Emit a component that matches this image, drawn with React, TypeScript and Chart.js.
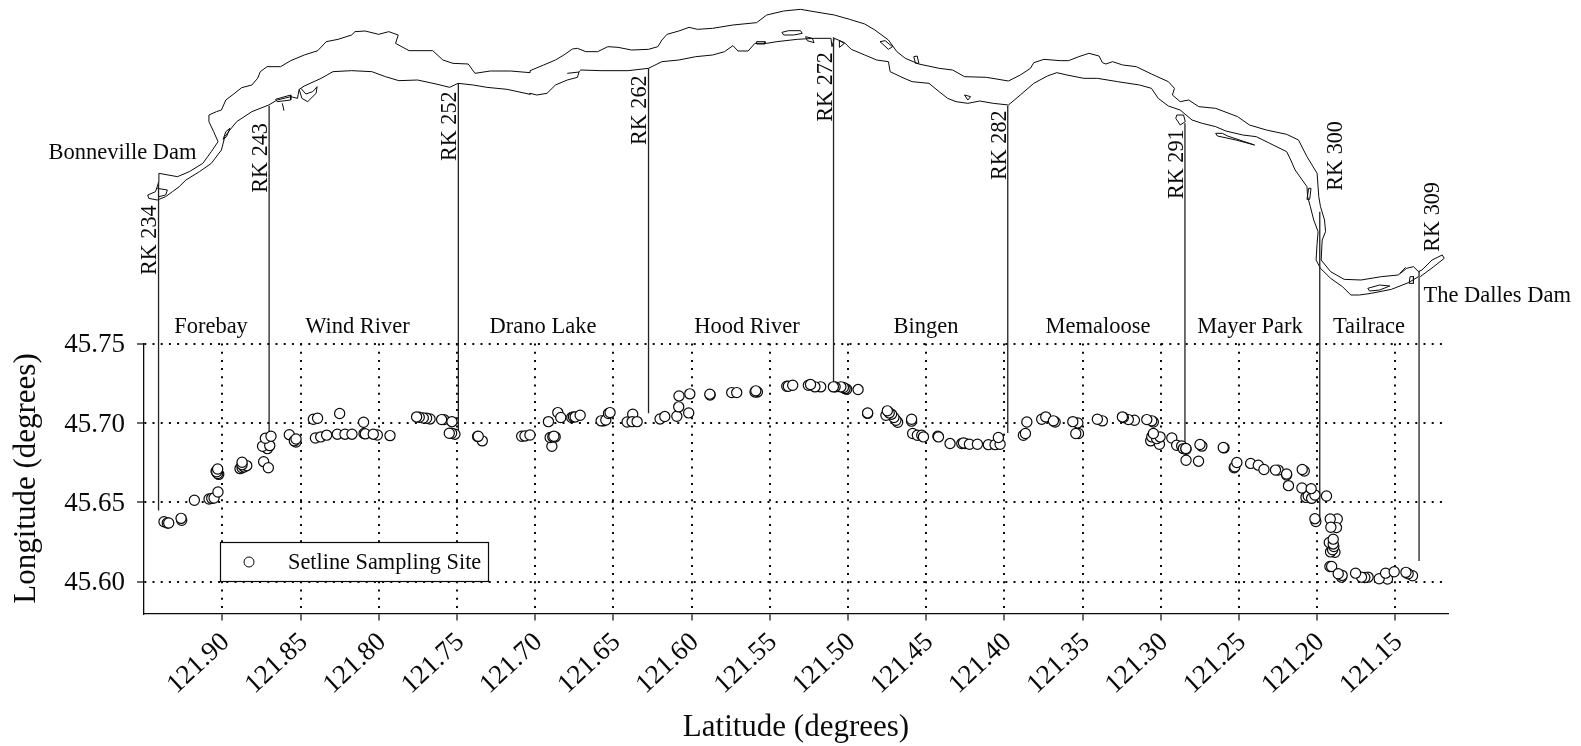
import React, { useEffect, useRef } from "react";
import { Chart, registerables } from "chart.js";

Chart.register(...registerables);

const FONT = '"Liberation Serif", "Times New Roman", serif';
const INK = "#0a0a0a";

const xTicks = [121.9, 121.85, 121.8, 121.75, 121.7, 121.65, 121.6, 121.55, 121.5, 121.45, 121.4, 121.35, 121.3, 121.25, 121.2, 121.15];
const yTicks = [45.6, 45.65, 45.7, 45.75];

// Setline sampling sites [latitude, longitude]
const sites: number[][] = [
  [121.9373, 45.6378], [121.9352, 45.637], [121.9343, 45.637], [121.926, 45.6387], [121.9264, 45.6399],
  [121.9179, 45.6513], [121.9085, 45.6521], [121.9068, 45.6525], [121.9053, 45.6527], [121.9028, 45.6565],
  [121.9023, 45.6676], [121.903, 45.6681], [121.904, 45.6695], [121.9036, 45.6692], [121.903, 45.671],
  [121.8887, 45.6712], [121.8874, 45.6718], [121.8861, 45.6723], [121.8844, 45.6731], [121.8874, 45.6737], [121.8874, 45.6752],
  [121.8736, 45.6756], [121.8706, 45.6718], [121.8712, 45.6838], [121.8743, 45.6853], [121.8697, 45.6857], [121.8725, 45.6903], [121.8689, 45.6916],
  [121.8572, 45.6926], [121.8529, 45.688], [121.854, 45.6887], [121.8529, 45.6899],
  [121.8405, 45.6905], [121.8371, 45.6912], [121.8333, 45.6923], [121.8265, 45.6929], [121.8216, 45.6929], [121.8171, 45.6929],
  [121.8094, 45.6933], [121.8086, 45.6931], [121.8009, 45.6924], [121.8035, 45.6929], [121.7928, 45.692],
  [121.8418, 45.7023], [121.8391, 45.7029], [121.825, 45.7059], [121.8097, 45.7004],
  [121.7672, 45.7025], [121.7694, 45.7029], [121.7715, 45.7031], [121.7741, 45.7036], [121.7758, 45.7038],
  [121.7583, 45.7021], [121.7598, 45.7021], [121.7532, 45.7008],
  [121.7513, 45.6929], [121.7534, 45.6935], [121.7549, 45.6935],
  [121.7338, 45.6887], [121.7368, 45.6914], [121.7364, 45.6916],
  [121.7086, 45.6916], [121.7065, 45.6918], [121.7033, 45.6924],
  [121.6915, 45.7008], [121.6893, 45.6853], [121.6904, 45.6908], [121.6887, 45.6912], [121.6872, 45.6912], [121.688, 45.6916],
  [121.6855, 45.7065], [121.6836, 45.7034], [121.6766, 45.7034], [121.6755, 45.7038], [121.6744, 45.7038], [121.6712, 45.7048],
  [121.6563, 45.7013], [121.6578, 45.7013], [121.6548, 45.7018], [121.6531, 45.7059], [121.6521, 45.7065],
  [121.6376, 45.7055], [121.6412, 45.7006], [121.638, 45.7008], [121.6348, 45.7008],
  [121.6201, 45.7025], [121.6171, 45.704], [121.6094, 45.7042], [121.6082, 45.7101], [121.608, 45.717], [121.6011, 45.7183], [121.6018, 45.7063],
  [121.5881, 45.7176], [121.5883, 45.7181], [121.5743, 45.7191], [121.5711, 45.7191],
  [121.5579, 45.7195], [121.5594, 45.7195], [121.5589, 45.7202],
  [121.5391, 45.7231], [121.5381, 45.7231], [121.5353, 45.7237],
  [121.5174, 45.7227], [121.5211, 45.7227], [121.5253, 45.7237], [121.5239, 45.7242],
  [121.5008, 45.7212], [121.5018, 45.7216], [121.5029, 45.7223], [121.5045, 45.7227], [121.5082, 45.7227], [121.5093, 45.7227],
  [121.4935, 45.721], [121.4874, 45.706], [121.4874, 45.7063],
  [121.4682, 45.7004], [121.4693, 45.7017], [121.4706, 45.7034], [121.4721, 45.7055], [121.4757, 45.7048], [121.4736, 45.7063], [121.4748, 45.7076],
  [121.4593, 45.7011], [121.4593, 45.7023], [121.4586, 45.6933], [121.4556, 45.6922], [121.4528, 45.6922], [121.4517, 45.6912],
  [121.4425, 45.6916], [121.4421, 45.6912], [121.4347, 45.687],
  [121.4272, 45.687], [121.4251, 45.687], [121.4261, 45.6874], [121.4223, 45.6866], [121.4172, 45.6866],
  [121.4102, 45.6863], [121.4059, 45.6863], [121.4027, 45.6866], [121.4038, 45.6908],
  [121.3878, 45.6922], [121.3865, 45.6933], [121.3856, 45.7006],
  [121.3761, 45.7023], [121.3735, 45.7038], [121.3675, 45.7006], [121.3686, 45.7013],
  [121.353, 45.7], [121.3562, 45.7008], [121.3526, 45.6933], [121.3543, 45.6933],
  [121.3373, 45.7013], [121.3405, 45.7023],
  [121.3168, 45.7017], [121.3207, 45.7021], [121.3239, 45.7034], [121.3245, 45.7038],
  [121.3047, 45.7006], [121.3057, 45.7013], [121.3089, 45.7021],
  [121.3064, 45.6887], [121.3057, 45.6912], [121.3008, 45.6866], [121.3026, 45.6901], [121.3004, 45.6912], [121.3047, 45.6933],
  [121.2929, 45.6905], [121.2898, 45.6859], [121.2866, 45.6855], [121.2855, 45.6838], [121.2838, 45.6834], [121.2839, 45.6839],
  [121.2838, 45.6765], [121.2758, 45.6759],
  [121.2737, 45.6854], [121.2749, 45.6864], [121.2595, 45.6843], [121.26, 45.6845],
  [121.253, 45.6718], [121.2526, 45.6724], [121.2513, 45.6751],
  [121.2425, 45.6745], [121.2376, 45.6734], [121.234, 45.6707],
  [121.2249, 45.6703], [121.2266, 45.6703], [121.2195, 45.6672], [121.2195, 45.6678], [121.2183, 45.6605],
  [121.2082, 45.6697], [121.2095, 45.6707],
  [121.2071, 45.6531], [121.2057, 45.654], [121.2097, 45.659], [121.2035, 45.6525], [121.2014, 45.6546], [121.2038, 45.6586],
  [121.194, 45.654], [121.2008, 45.6379], [121.2014, 45.6397],
  [121.1871, 45.6395], [121.1876, 45.6341], [121.1916, 45.6395], [121.1912, 45.6343],
  [121.1922, 45.6247], [121.1886, 45.6186], [121.1914, 45.6188], [121.1901, 45.6201], [121.1893, 45.6222], [121.1897, 45.6238], [121.1897, 45.6268],
  [121.1918, 45.6096], [121.1907, 45.6096], [121.1844, 45.6029], [121.184, 45.604], [121.1865, 45.605],
  [121.1674, 45.6029], [121.1695, 45.6027], [121.1716, 45.6029], [121.1754, 45.6054],
  [121.155, 45.6017], [121.1603, 45.6019], [121.1562, 45.6054], [121.1507, 45.6063],
  [121.139, 45.6038], [121.1418, 45.605], [121.1432, 45.6059],
];

const legendLabel = "Setline Sampling Site";

// River-kilometre markers: [latitude, lower longitude, upper longitude]
const rkMarkers: number[][] = [
  [121.9408, 45.6449, 45.8518], [121.8701, 45.6935, 45.8997], [121.7491, 45.6954, 45.9139],
  [121.6275, 45.7061, 45.9233], [121.5092, 45.7237, 45.9429], [121.3978, 45.6937, 45.8997],
  [121.2845, 45.688, 45.8887], [121.1983, 45.6386, 45.8329], [121.1348, 45.613, 45.7958],
];
const rkNames = ["RK 234", "RK 243", "RK 252", "RK 262", "RK 272", "RK 282", "RK 291", "RK 300", "RK 309"];
const rkLabelAt = [[155.5, 275], [267, 192.7], [456, 161], [646, 145], [832, 121.7], [1006, 180], [1183, 199], [1342, 190.7], [1439, 251.7]];

const reaches = ["Forebay", "Wind River", "Drano Lake", "Hood River", "Bingen", "Memaloose", "Mayer Park", "Tailrace"];
const reachCentres = [211, 357.5, 543, 747, 926, 1098, 1250, 1369];

// River outline, in map-sheet units, one array per sheet
const northSheetA = [[470,520],[525,530],[560,515],[600,490],[625,455],[645,425],[632,395],[618,365],[618,345],[640,335],[655,330],[668,300],[690,283],[715,263],[745,255],[762,235],[770,215],[790,200],[830,200],[860,182],[900,165],[940,152],[965,125],[1000,118],[1040,105],[1050,95],[1080,93],[1120,103],[1150,95],[1178,105],[1170,130],[1210,152],[1280,152],[1310,180],[1340,190],[1385,192],[1405,220],[1450,213],[1510,213],[1568,218]];
const northSheetB = [[0,212],[40,195],[75,180],[100,165],[125,147],[140,145],[165,155],[200,155],[230,140],[260,142],[300,150],[350,148],[378,140],[390,120],[405,103],[440,93],[470,82],[495,88],[540,85],[600,75],[670,68],[700,45],[750,33],[800,28],[840,35],[900,45],[945,58],[990,72],[1020,90],[1060,120],[1085,155],[1110,175],[1150,192],[1210,205],[1250,210],[1285,230],[1350,232],[1415,243],[1450,225],[1480,205],[1490,188],[1520,178],[1568,182]];
const northSheetC = [[55,182],[85,170],[115,160],[145,168],[155,188],[165,192],[185,185],[215,195],[255,200],[300,222],[350,245],[368,265],[362,285],[385,305],[410,300],[440,320],[490,325],[555,350],[590,375],[640,390],[700,403],[735,420],[760,470],[790,520],[795,590],[800,620],[812,660],[815,695],[805,720],[802,780],[830,815],[870,838],[920,840],[980,830],[1030,825],[1055,805],[1075,800],[1090,815],[1100,810],[1130,780],[1160,765],[1166,775],[1135,800],[1115,815],[1095,830]];
const southSheetC = [[1090,830],[1060,848],[1010,868],[950,880],[915,885],[890,885],[865,860],[830,835],[800,805],[787,780],[790,730],[793,695],[780,660],[770,620],[762,590],[760,560],[725,510],[712,480],[700,455],[650,430],[610,410],[570,405],[520,393],[490,380],[450,370],[420,360],[385,330],[350,318],[320,295],[300,265],[265,255],[200,245],[140,235],[100,235],[50,225],[20,218]];
const southSheetB = [[1530,228],[1490,250],[1450,285],[1415,315],[1370,310],[1330,303],[1295,310],[1260,305],[1235,295],[1210,275],[1180,250],[1130,245],[1100,232],[1065,215],[1060,185],[1025,180],[990,165],[950,148],[930,128],[900,115],[893,140],[890,115],[840,115],[790,118],[730,125],[700,130],[665,130],[645,153],[615,153],[600,137],[575,155],[540,165],[490,170],[440,180],[390,185],[350,205],[290,212],[210,212],[150,210],[145,215],[140,232],[110,240],[75,255],[50,280],[20,285],[0,280]];
const southSheetA = [[1568,283],[1500,268],[1440,262],[1400,255],[1355,250],[1330,262],[1290,252],[1235,240],[1180,242],[1140,230],[1100,215],[1040,212],[985,215],[950,235],[900,258],[885,268],[880,295],[860,290],[820,300],[795,315],[745,335],[700,365],[680,390],[665,410],[655,450],[625,490],[590,515],[550,540],[530,560],[510,575],[490,590],[465,600],[440,595],[437,585],[460,575],[470,545],[470,520]];

const islandsA = [
  [[890,265],[905,282],[925,275],[938,260],[935,280],[910,305],[893,295],[885,268]],
  [[815,298],[860,285],[860,300],[820,305],[815,298]],
  [[835,310],[840,332]],
  [[465,565],[495,570],[490,585],[470,590]],
  [[660,418],[668,395],[680,385],[670,410],[660,418]],
];
const islandsB = [
  [[745,97],[765,92],[800,92],[805,100],[780,105],[750,105],[745,97]],
  [[815,110],[835,115],[840,128],[820,122],[815,110]],
  [[670,125],[695,125],[695,132],[670,132],[670,125]],
  [[915,122],[930,130],[915,142],[915,122]],
  [[1035,125],[1050,122],[1072,140],[1060,148],[1035,125]],
  [[1135,170],[1145,168],[1150,190],[1140,190],[1135,170]],
  [[1285,285],[1303,290],[1295,300],[1285,285]],
  [[110,220],[145,216]],
];
const islandsC = [
  [[375,345],[395,345],[400,365],[385,375],[372,355],[375,345]],
  [[490,400],[510,400],[525,408],[605,435],[550,420],[495,408],[490,400]],
  [[765,565],[772,565],[768,598],[760,598],[765,565]],
  [[940,865],[975,855],[1005,858],[975,870],[945,873],[940,865]],
  [[1065,830],[1075,830],[1075,850],[1062,850],[1065,830]],
  [[1035,820],[1052,802]],
];
const speckA = [[1075,115],[1005,162],[640,382],[660,340],[670,340],[645,345],[515,550],[1155,118]];
const speckB = [[1005,98],[1090,165],[1103,180]];
const speckC = [[787,575],[128,208],[1150,772]];

const SHEET_B = 1568;
const SHEET_C = 3106;
const MAP_PER_PX_X = 2.958;
const MAP_PER_PX_Y = 3;

const CH = { left: 144, right: 1448, top: 343.5, bottom: 613.5 };

const shift = (arr: number[][], dx: number) => arr.map(([x, y]) => ({ x: x + dx, y }));

const mapLine = (data: { x: number; y: number }[]) => ({
  type: "scatter" as const,
  xAxisID: "mapX",
  yAxisID: "mapY",
  data,
  showLine: true,
  tension: 0,
  borderColor: INK,
  borderWidth: 1,
  pointRadius: 0,
  clip: false as const,
  order: 5,
});

const overlay = {
  id: "overlay",
  afterDatasetsDraw(chart: any) {
    const { ctx } = chart;
    ctx.save();
    ctx.fillStyle = INK;
    ctx.font = `22.5px ${FONT}`;
    ctx.textBaseline = "alphabetic";
    ctx.textAlign = "center";
    reaches.forEach((name, i) => ctx.fillText(name, reachCentres[i], 333));
    ctx.textAlign = "left";
    ctx.fillText("Bonneville Dam", 48.5, 159.3);
    ctx.fillText("The Dalles Dam", 1423.5, 301.7);
    ctx.font = `22.2px ${FONT}`;
    rkNames.forEach((name, i) => {
      ctx.save();
      ctx.translate(rkLabelAt[i][0], rkLabelAt[i][1]);
      ctx.rotate(-Math.PI / 2);
      ctx.fillText(name, 0, 0);
      ctx.restore();
    });
    // legend box
    ctx.fillStyle = "#ffffff";
    ctx.strokeStyle = INK;
    ctx.lineWidth = 1.2;
    ctx.fillRect(220, 542, 268, 39);
    ctx.strokeRect(220.5, 542.5, 268, 39);
    ctx.beginPath();
    ctx.arc(249, 562, 5, 0, Math.PI * 2);
    ctx.lineWidth = 1;
    ctx.stroke();
    ctx.fillStyle = INK;
    ctx.font = `22.3px ${FONT}`;
    ctx.fillText(legendLabel, 288, 569);
    ctx.restore();
  },
};

export default function App() {
  const ref = useRef<HTMLCanvasElement>(null);
  useEffect(() => {
    document.body.style.margin = "0";
    const datasets: any[] = [
      {
        type: "scatter",
        label: legendLabel,
        data: sites.map(([x, y]) => ({ x, y })),
        pointRadius: 5.1,
        pointBorderWidth: 1.2,
        pointBorderColor: INK,
        pointBackgroundColor: "#ffffff",
        clip: false,
        order: 1,
      },
      ...rkMarkers.map(([x, y0, y1]) => ({
        type: "scatter",
        data: [{ x, y: y0 }, { x, y: y1 }],
        showLine: true,
        borderColor: "#222222",
        borderWidth: 1.3,
        pointRadius: 0,
        clip: false,
        order: 3,
      })),
      mapLine([...shift(northSheetA, 0), ...shift(northSheetB, SHEET_B), ...shift(northSheetC, SHEET_C)]),
      mapLine([...shift(southSheetC, SHEET_C), ...shift(southSheetB, SHEET_B), ...shift(southSheetA, 0)]),
      ...islandsA.map((a) => mapLine(shift(a, 0))),
      ...islandsB.map((a) => mapLine(shift(a, SHEET_B))),
      ...islandsC.map((a) => mapLine(shift(a, SHEET_C))),
      {
        type: "scatter",
        xAxisID: "mapX",
        yAxisID: "mapY",
        data: [...shift(speckA, 0), ...shift(speckB, SHEET_B), ...shift(speckC, SHEET_C)],
        pointRadius: 0.9,
        pointBorderWidth: 0,
        pointBackgroundColor: INK,
        clip: false,
        order: 5,
      },
    ];
    const chart = new Chart(ref.current!, {
      type: "scatter",
      data: { datasets },
      plugins: [overlay],
      options: {
        animation: false,
        responsive: false,
        events: [],
        layout: { padding: { left: 0, top: CH.top, right: 1581 - CH.right, bottom: 0 } },
        plugins: { legend: { display: false }, tooltip: { enabled: false } },
        scales: {
          x: {
            type: "linear",
            reverse: true,
            min: 121.1163,
            max: 121.9501,
            afterBuildTicks: (s: any) => { s.ticks = xTicks.map((value) => ({ value })); },
            afterFit: (s: any) => { s.height = 746 - CH.bottom; },
            border: { display: true, color: INK, width: 1.3, dash: [2, 6.2] },
            grid: { color: INK, lineWidth: 2, drawTicks: true, tickLength: 7, tickColor: INK, tickWidth: 1.2, tickBorderDash: [] },
            ticks: {
              color: INK,
              font: { family: FONT, size: 27 },
              minRotation: 43,
              maxRotation: 43,
              padding: 6,
              labelOffset: 3.5,
              autoSkip: false,
              callback: (v: any) => Number(v).toFixed(2),
            },
            title: { display: true, text: "Latitude (degrees)", color: INK, font: { family: FONT, size: 31 }, padding: { top: 0, bottom: 0 } },
          },
          y: {
            type: "linear",
            min: 45.58,
            max: 45.75,
            afterBuildTicks: (s: any) => { s.ticks = yTicks.map((value) => ({ value })); },
            afterFit: (s: any) => { s.width = CH.left; },
            border: { display: true, color: INK, width: 1.3, dash: [2, 6.2] },
            grid: { color: INK, lineWidth: 2, drawTicks: true, tickLength: 7, tickColor: INK, tickWidth: 1.2, tickBorderDash: [] },
            ticks: {
              color: INK,
              font: { family: FONT, size: 27 },
              padding: 12,
              labelOffset: 1.5,
              autoSkip: false,
              callback: (v: any) => Number(v).toFixed(2),
            },
            title: { display: true, text: "Longitude (degrees)", color: INK, font: { family: FONT, size: 31 }, padding: { top: 8, bottom: 0 } },
          },
          mapX: {
            axis: "x",
            type: "linear",
            display: false,
            min: CH.left * MAP_PER_PX_X,
            max: CH.right * MAP_PER_PX_X,
          },
          mapY: {
            axis: "y",
            type: "linear",
            display: false,
            reverse: true,
            min: CH.top * MAP_PER_PX_Y,
            max: CH.bottom * MAP_PER_PX_Y,
          },
        },
      } as any,
    });
    return () => chart.destroy();
  }, []);
  return <canvas ref={ref} width={1581} height={746} style={{ display: "block" }} />;
}
